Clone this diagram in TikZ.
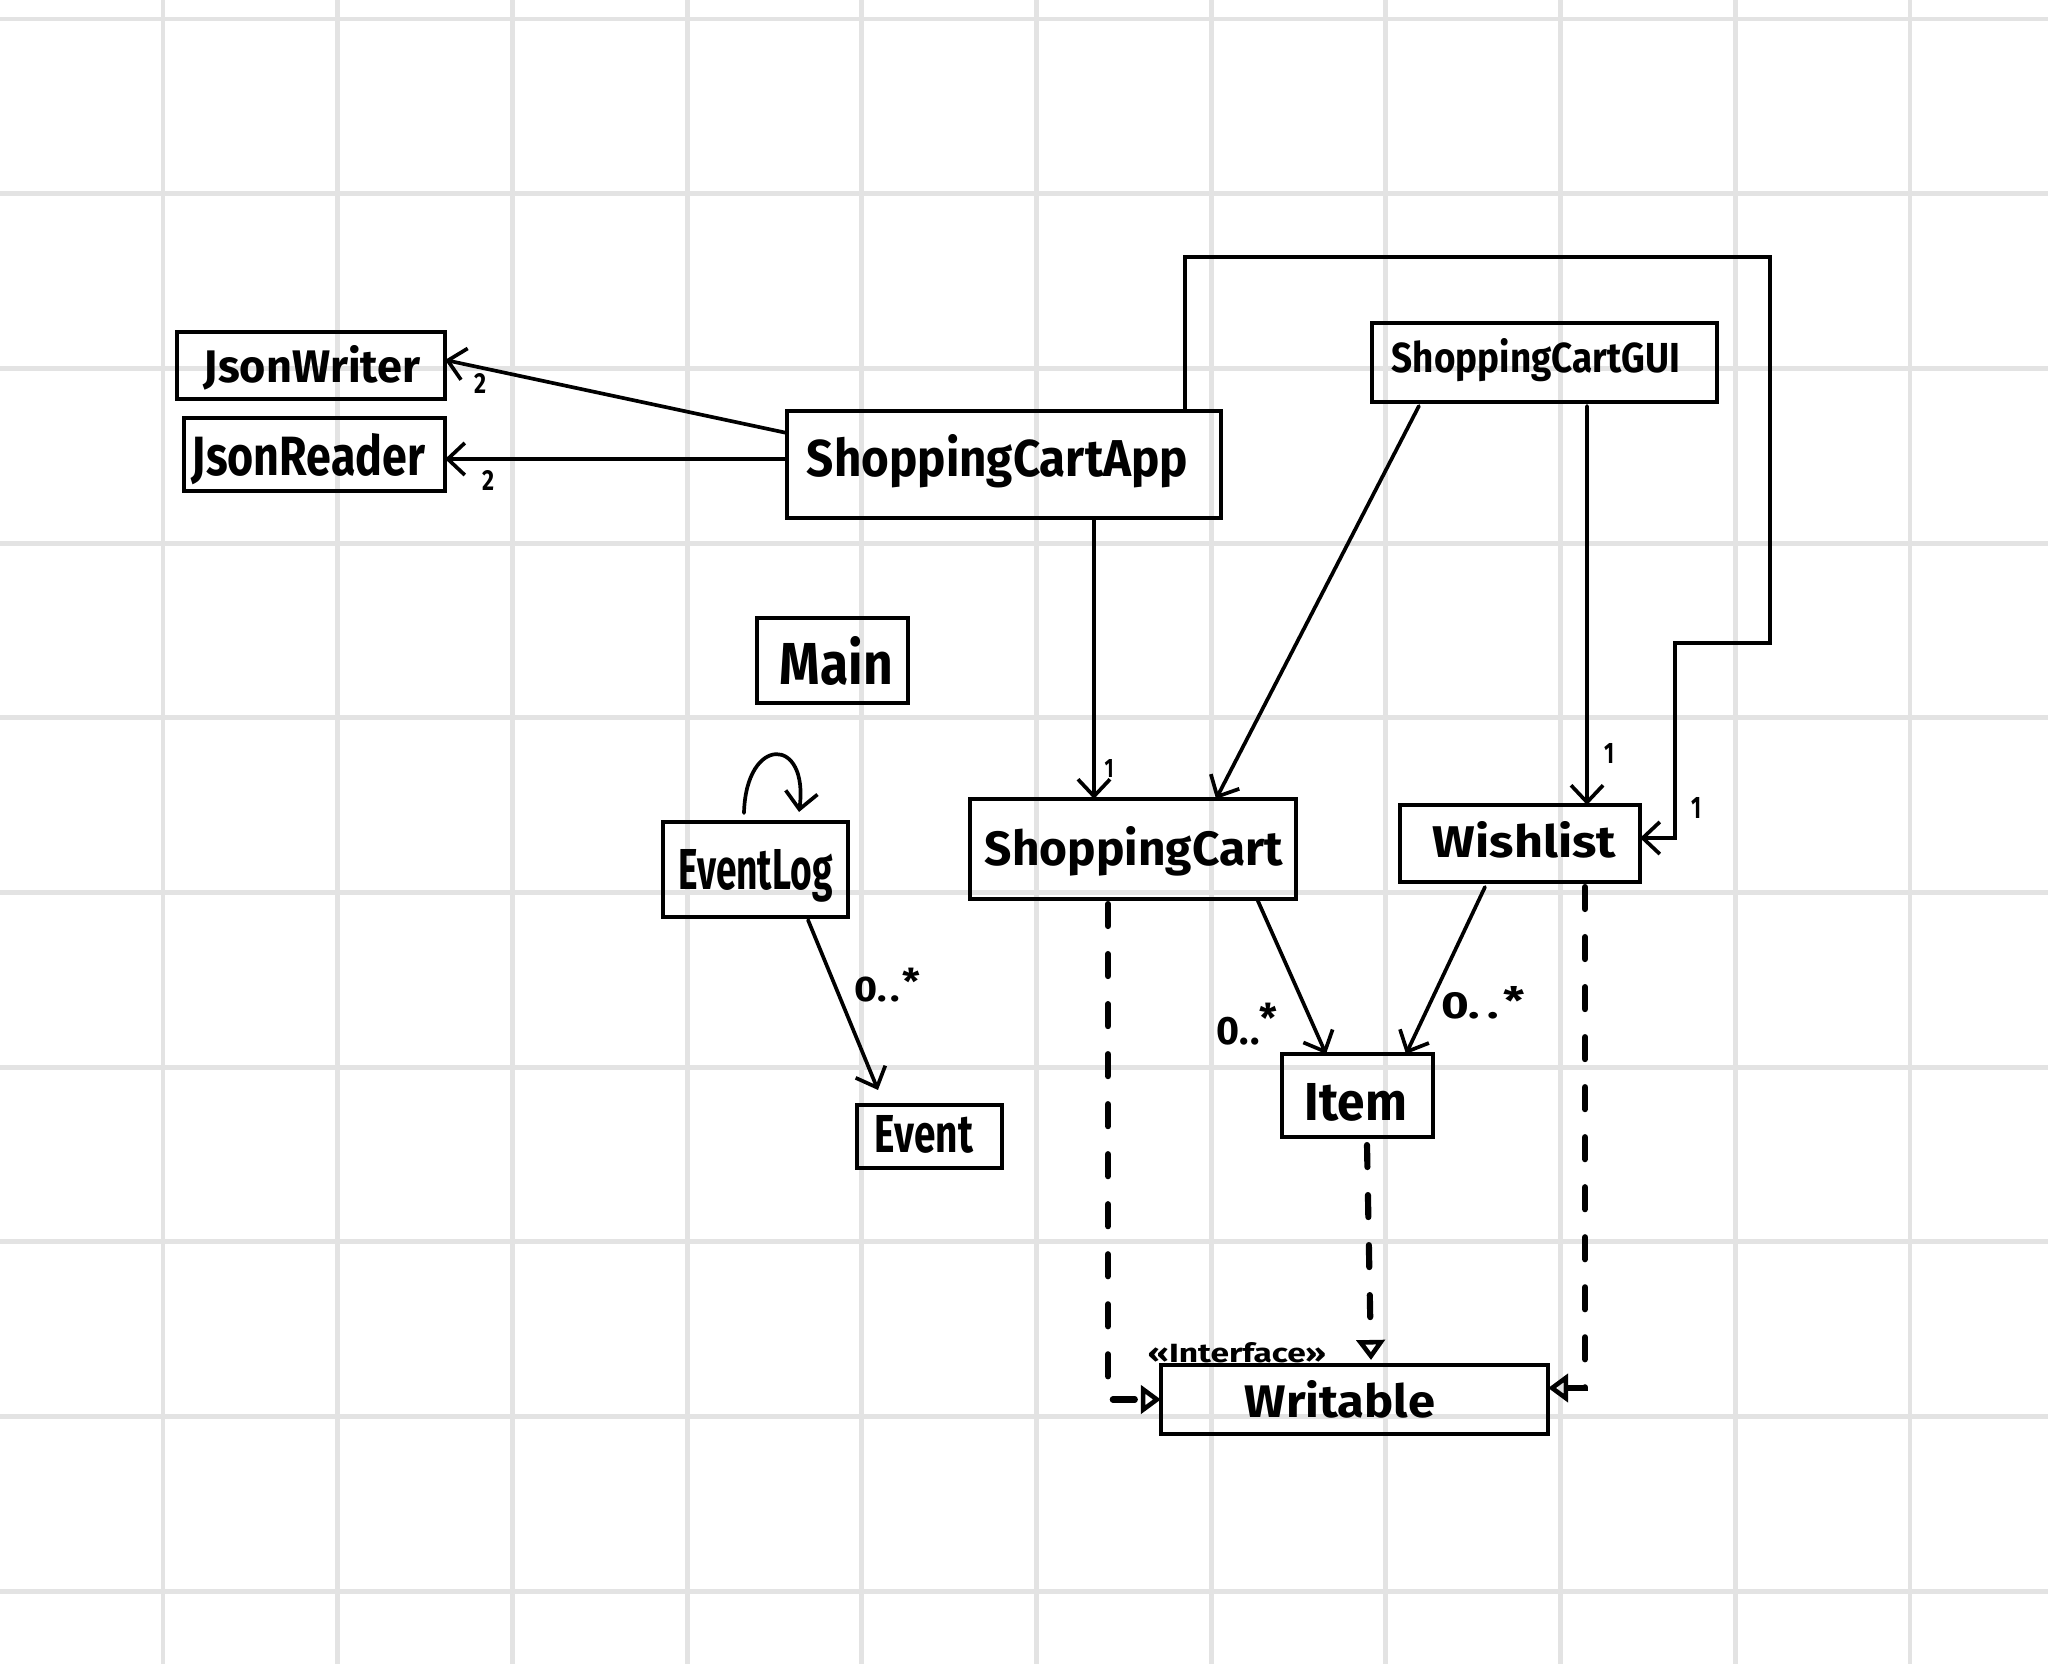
\documentclass[tikz,border=0pt]{standalone}
\usepackage{fontspec}
\setmainfont{Fira Sans}
\usetikzlibrary{arrows.meta}

% class name: width, ascender height, horizontal and vertical nudge, text
\newcommand\cname[5]{\kern#3\raisebox{#4}[#2][0pt]{\resizebox{#1}{#2}{\bfseries #5}}\kern-#3\relax}
\newcommand\mtext[3]{\resizebox{#1}{#2}{\bfseries #3}}

\tikzset{
  gridline/.style={draw=black!11, line width=1.4pt},
  cls/.style={draw, line width=1.25pt, inner sep=0pt, outer sep=0pt},
  assoc/.style={line width=1.05pt, line cap=round,
    -{Straight Barb[length=0.17cm, width=0.32cm, line width=1.05pt]}},
  real/.style={line width=1.75pt, line cap=round, dash pattern=on 0.22cm off 0.28cm,
    -{Triangle[open, length=0.2cm, width=0.28cm, line width=1.3pt]}},
  mult/.style={inner sep=0pt}
}

\begin{document}
\begin{tikzpicture}[x=0.01cm, y=-0.01cm]
  \useasboundingbox (0,0) rectangle (2048,1664);
  \fill[white] (0,0) rectangle (2048,1664);

  % squared paper
  \foreach \i in {0,...,10}
    \draw[gridline] ({163+174.7*\i},0) -- ({163+174.7*\i},1664);
  \foreach \j in {0,...,9}
    \draw[gridline] (0,{19+174.7*\j}) -- (2048,{19+174.7*\j});

  % classes
  \node[cls, minimum width=2.68cm, minimum height=0.67cm] (jw) at (311,365.5)
    {\cname{2.16cm}{0.37cm}{0.01cm}{0.02cm}{JsonWriter}};
  \node[cls, minimum width=2.61cm, minimum height=0.73cm] (jr) at (314.5,454.5)
    {\cname{2.33cm}{0.42cm}{-0.06cm}{0cm}{JsonReader}};
  \node[cls, minimum width=4.34cm, minimum height=1.07cm] (app) at (1004,464.5)
    {\cname{3.81cm}{0.42cm}{-0.065cm}{0.09cm}{ShoppingCartApp}};
  \node[cls, minimum width=3.45cm, minimum height=0.79cm] (gui) at (1544.5,362.5)
    {\cname{2.88cm}{0.34cm}{-0.085cm}{0.07cm}{ShoppingCartGUI}};
  \node[cls, minimum width=1.51cm, minimum height=0.85cm] (main) at (832.5,660.5)
    {\cname{1.13cm}{0.48cm}{0.04cm}{0cm}{Main}};
  \node[cls, minimum width=1.85cm, minimum height=0.95cm] (elog) at (755.5,869.5)
    {\cname{1.54cm}{0.40cm}{0cm}{0cm}{EventLog}};
  \node[cls, minimum width=1.45cm, minimum height=0.63cm] (event) at (929.5,1136.5)
    {\cname{0.98cm}{0.37cm}{-0.055cm}{0.03cm}{Event}};
  \node[cls, minimum width=3.26cm, minimum height=1.00cm] (cart) at (1133,849)
    {\cname{2.98cm}{0.39cm}{0.01cm}{0.03cm}{ShoppingCart}};
  \node[cls, minimum width=2.40cm, minimum height=0.77cm] (wish) at (1520,843.5)
    {\cname{1.83cm}{0.36cm}{0.045cm}{0.04cm}{Wishlist}};
  \node[cls, minimum width=1.51cm, minimum height=0.83cm] (item) at (1357.5,1095.5)
    {\cname{1.02cm}{0.37cm}{-0.015cm}{-0.065cm}{Item}};
  \node[cls, minimum width=3.87cm, minimum height=0.69cm] (writ) at (1354.5,1399.5)
    {\cname{1.90cm}{0.37cm}{-0.145cm}{0.01cm}{Writable}};
  \node[anchor=base, inner sep=0pt] (stereo) at (1237,1362)
    {\mtext{1.78cm}{0.2cm}{«Interface»}};

  % associations
  \draw[assoc] ([yshift=0.315cm]app.west) -- ([yshift=0.055cm]jw.east);
  \draw[assoc] ([yshift=0.055cm]app.west) -- ([yshift=-0.045cm]jr.east);
  \draw[assoc] ([xshift=0.9cm]app.south) -- ([xshift=-0.39cm]cart.north);
  \draw[assoc] ([xshift=-1.255cm,yshift=-0.04cm]gui.south) -- ([xshift=0.83cm]cart.north);
  \draw[assoc] ([xshift=0.425cm,yshift=-0.04cm]gui.south) -- ([xshift=0.67cm]wish.north);
  \coordinate (r1) at (1770,257);
  \coordinate (r2) at (1675,643);
  \draw[assoc] ([xshift=1.81cm]app.north) |- (r1) |- (r2) |- ([yshift=0.055cm]wish.east);
  \draw[assoc] ([xshift=1.24cm]cart.south) -- ([xshift=-0.315cm]item.north);
  \draw[assoc] ([xshift=-0.35cm,yshift=-0.05cm]wish.south) -- ([xshift=0.485cm]item.north);
  \draw[assoc] ([xshift=0.525cm,yshift=-0.03cm]elog.south) -- ([xshift=-0.515cm,yshift=0.15cm]event.north);
  \draw[assoc] ([xshift=-0.115cm,yshift=0.09cm]elog.north)
    .. controls +(2,-78) and +(10,-76) .. ([xshift=0.435cm,yshift=0.1cm]elog.north);

  % realizations of the interface
  \draw[real] ([xshift=-0.25cm,yshift=-0.05cm]cart.south) |- (writ.west);
  \draw[real] ([xshift=0.095cm,yshift=-0.08cm]item.south) -- ([xshift=0.165cm,yshift=0.05cm]writ.north);
  \draw[real] ([xshift=0.65cm,yshift=-0.05cm]wish.south) |- ([yshift=0.115cm]writ.east);

  % multiplicities
  \node[mult] (mjw) at (480,383) {\mtext{0.12cm}{0.2cm}{2}};
  \node[mult] (mjr) at (488,480) {\mtext{0.12cm}{0.2cm}{2}};
  \node[mult] (mapp) at (1109,768) {\mtext{0.09cm}{0.18cm}{1}};
  \node[mult] (mgui) at (1609,753) {\mtext{0.1cm}{0.2cm}{1}};
  \node[mult] (mroute) at (1696,808) {\mtext{0.1cm}{0.21cm}{1}};
  \node[mult] (mev) at (887.5,985) {\mtext{0.65cm}{0.33cm}{0.\kern0.1em.\kern0.05em\raisebox{0.35ex}{*}}};
  \node[mult] (mci) at (1247,1024) {\mtext{0.61cm}{0.42cm}{0.\kern0.05em.\raisebox{0.6ex}{*}}};
  \node[mult] (mwi) at (1483,1003) {\mtext{0.83cm}{0.32cm}{0.\kern0.15em.\kern0.1em\raisebox{0.2ex}{*}}};
\end{tikzpicture}
\end{document}
